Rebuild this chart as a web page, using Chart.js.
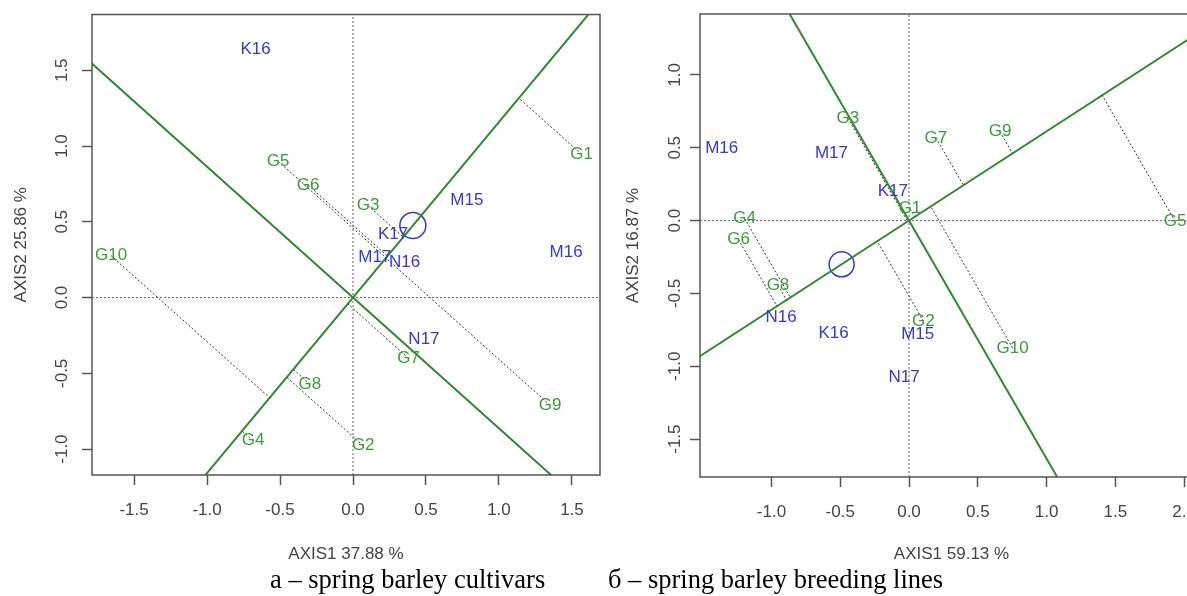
<!DOCTYPE html>
<html>
<head>
<meta charset="utf-8">
<title>GGE biplot – spring barley</title>
<script src="https://cdn.jsdelivr.net/npm/chart.js"></script>
<style>
    html, body { margin: 0; padding: 0; background: #fff; overflow: hidden; width: 1187px; height: 596px; position: relative; }
    canvas { position: absolute; top: 0; }
    #chartA { left: 0; }
    #chartB { left: 600px; }
    .caption { position: absolute; top: 566px; font-family: "Liberation Serif", "Times New Roman", serif;
               font-size: 26.5px; line-height: 26.5px; white-space: nowrap; color: #000; }
</style>
</head>
<body>
<canvas id="chartA" width="617" height="596"></canvas>
<canvas id="chartB" width="620" height="596"></canvas>
<div class="caption" style="left:270px">a – spring barley cultivars</div>
<div class="caption" style="left:608px">б – spring barley breeding lines</div>
<script>
    // genotypes (same names on both plots)
    const genotypes = ['G1', 'G2', 'G3', 'G4', 'G5', 'G6', 'G7', 'G8', 'G9', 'G10'];

    // a – spring barley cultivars
    const genoXa = [1.566, 0.07, 0.103, -0.685, -0.513, -0.308, 0.38, -0.295, 1.35, -1.657];
    const genoYa = [0.945, -0.978, 0.607, -0.945, 0.90, 0.743, -0.40, -0.572, -0.71, 0.276];
    const envNamesA = ['K16', 'M15', 'K17', 'M16', 'M17', 'N16', 'N17'];
    const envXa = [-0.667, 0.78, 0.274, 1.46, 0.149, 0.354, 0.486];
    const envYa = [1.64, 0.645, 0.42, 0.296, 0.267, 0.234, -0.276];
    const avgEnvA = [0.41, 0.475];
    const xLimA = [-1.788, 1.692];
    const yLimA = [-1.171, 1.868];
    const xTicksA = [-1.5, -1.0, -0.5, 0.0, 0.5, 1.0, 1.5];
    const yTicksA = [-1.0, -0.5, 0.0, 0.5, 1.0, 1.5];
    const titlesA = ['AXIS1 37.88 %', 'AXIS2 25.86 %'];

    // б – spring barley breeding lines
    const genoXb = [0.007, 0.105, -0.444, -1.195, 1.935, -1.24, 0.196, -0.953, 0.662, 0.753];
    const genoYb = [0.082, -0.69, 0.703, 0.014, -0.005, -0.13, 0.568, -0.445, 0.61, -0.875];
    const envNamesB = ['M16', 'M17', 'K17', 'N16', 'K16', 'M15', 'N17'];
    const envXb = [-1.362, -0.564, -0.118, -0.931, -0.549, 0.063, -0.036];
    const envYb = [0.495, 0.459, 0.199, -0.662, -0.774, -0.781, -1.073];
    const avgEnvB = [-0.49, -0.30];
    const xLimB = [-1.52, 2.138];
    const yLimB = [-1.76, 1.418];
    const xTicksB = [-1.0, -0.5, 0.0, 0.5, 1.0, 1.5, 2.0];
    const yTicksB = [-1.5, -1.0, -0.5, 0.0, 0.5, 1.0];
    const titlesB = ['AXIS1 59.13 %', 'AXIS2 16.87 %'];

    const FONT = '"Liberation Sans", Arial, sans-serif';
    const GREEN_LINE = '#2d8b2d';
    const GREEN_TEXT = '#3a9c3a';
    const BLUE_TEXT = '#3838cc';

    // draws the names at the points of datasets that carry labelTexts
    const textLabels = {
        id: 'textLabels',
        afterDatasetsDraw(chart) {
            const ctx = chart.ctx;
            ctx.save();
            ctx.font = '17px ' + FONT;
            ctx.textAlign = 'center';
            ctx.textBaseline = 'middle';
            chart.data.datasets.forEach((ds, i) => {
                if (!ds.labelTexts) return;
                ctx.fillStyle = ds.labelColor;
                chart.getDatasetMeta(i).data.forEach((pt, j) => ctx.fillText(ds.labelTexts[j], pt.x, pt.y));
            });
            ctx.restore();
        }
    };

    // box around the plot region, like R's box()
    const frame = {
        id: 'frame',
        afterDraw(chart) {
            const { left, top, right, bottom } = chart.chartArea;
            const ctx = chart.ctx;
            ctx.save();
            ctx.strokeStyle = '#555';
            ctx.lineWidth = 1.5;
            ctx.strokeRect(left, top, right - left, bottom - top);
            ctx.restore();
        }
    };

    const lineSet = (pts, color, width, dash) => ({
        data: pts, showLine: true, pointRadius: 0, borderColor: color,
        borderWidth: width, borderDash: dash, clip: 0
    });

    function biplot(id, d, lay) {
        const [ax, ay] = d.avg;
        const n2 = ax * ax + ay * ay;
        const far = 50;
        const geno = d.gx.map((x, i) => ({ x, y: d.gy[i] }));
        const env = d.ex.map((x, i) => ({ x, y: d.ey[i] }));

        const datasets = [];
        // dotted zero lines
        datasets.push(lineSet([{ x: d.xlim[0], y: 0 }, { x: d.xlim[1], y: 0 }], '#666', 1, [2, 2]));
        datasets.push(lineSet([{ x: 0, y: d.ylim[0] }, { x: 0, y: d.ylim[1] }], '#666', 1, [2, 2]));
        // projection of each genotype on the average-environment axis
        geno.forEach(p => {
            const t = (p.x * ax + p.y * ay) / n2;
            datasets.push(lineSet([p, { x: t * ax, y: t * ay }], '#333', 1, [2, 2]));
        });
        // average-environment axis and its perpendicular through the origin
        datasets.push(lineSet([{ x: -far * ax, y: -far * ay }, { x: far * ax, y: far * ay }], GREEN_LINE, 2, []));
        datasets.push(lineSet([{ x: far * ay, y: -far * ax }, { x: -far * ay, y: far * ax }], GREEN_LINE, 2, []));
        // names
        datasets.push({ data: geno, pointRadius: 0, labelTexts: genotypes, labelColor: GREEN_TEXT });
        datasets.push({ data: env, pointRadius: 0, labelTexts: d.envNames, labelColor: BLUE_TEXT });
        // average environment
        datasets.push({
            data: [{ x: ax, y: ay }], pointRadius: lay.ring, borderColor: '#3a3ad0',
            backgroundColor: 'rgba(0,0,0,0)', borderWidth: 1.5
        });

        const tickFont = { family: FONT, size: 17 };
        new Chart(document.getElementById(id), {
            type: 'scatter',
            data: { datasets },
            plugins: [textLabels, frame],
            options: {
                responsive: false,
                animation: false,
                events: [],
                layout: { padding: lay.padding },
                plugins: { legend: { display: false }, tooltip: { enabled: false } },
                scales: {
                    x: {
                        type: 'linear', min: d.xlim[0], max: d.xlim[1],
                        afterBuildTicks: s => { s.ticks = d.xticks.map(v => ({ value: v })); },
                        afterFit: s => { s.height = lay.xAxisH; },
                        grid: { drawOnChartArea: false, drawTicks: true, tickLength: 10, tickColor: '#555', tickWidth: 1.5 },
                        border: { display: false },
                        ticks: { color: '#444', font: tickFont, padding: 15, autoSkip: false, maxRotation: 0,
                                 callback: v => v.toFixed(1) },
                        title: { display: true, text: d.titles[0], color: '#444', font: tickFont,
                                 padding: { top: 0, bottom: 31 } }
                    },
                    y: {
                        type: 'linear', min: d.ylim[0], max: d.ylim[1],
                        afterBuildTicks: s => { s.ticks = d.yticks.map(v => ({ value: v })); },
                        afterFit: s => { s.width = lay.yAxisW; s.paddingTop = 0; s.paddingBottom = 0; },
                        grid: { drawOnChartArea: false, drawTicks: true, tickLength: 10, tickColor: '#555', tickWidth: 1.5 },
                        border: { display: false },
                        ticks: { color: '#444', font: tickFont, padding: lay.yPad, autoSkip: false,
                                 minRotation: 90, maxRotation: 90, crossAlign: 'center',
                                 callback: v => v.toFixed(1) },
                        title: { display: true, text: d.titles[1], color: '#444', font: tickFont,
                                 padding: { top: lay.yTitlePad, bottom: 0 } }
                    }
                }
            }
        });
    }

    biplot('chartA',
        { gx: genoXa, gy: genoYa, ex: envXa, ey: envYa, envNames: envNamesA, avg: avgEnvA,
          xlim: xLimA, ylim: yLimA, xticks: xTicksA, yticks: yTicksA, titles: titlesA },
        { yAxisW: 92, xAxisH: 121, padding: { top: 13, right: 17, left: 0, bottom: 0 }, yPad: 5, yTitlePad: 11.5, ring: 13 });

    biplot('chartB',
        { gx: genoXb, gy: genoYb, ex: envXb, ey: envYb, envNames: envNamesB, avg: avgEnvB,
          xlim: xLimB, ylim: yLimB, xticks: xTicksB, yticks: yTicksB, titles: titlesB },
        { yAxisW: 100, xAxisH: 119, padding: { top: 13, right: 17, left: 0, bottom: 0 }, yPad: 0, yTitlePad: 23, ring: 12.5 });
</script>
</body>
</html>
